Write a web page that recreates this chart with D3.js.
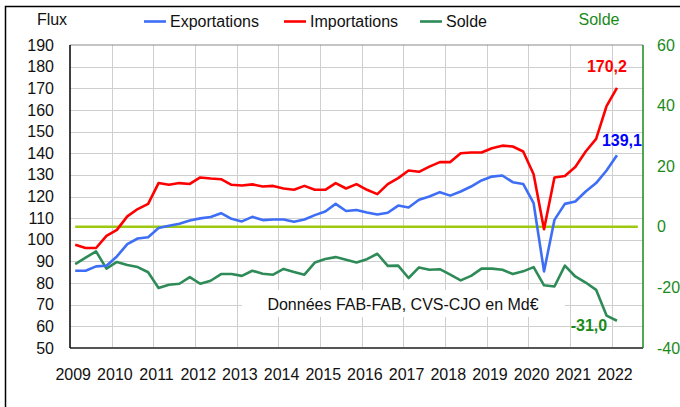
<!DOCTYPE html>
<html>
<head>
<meta charset="utf-8">
<script src="https://cdn.jsdelivr.net/npm/d3@7"></script>
<style>
  body { margin: 0; background: #fff; }
  svg { display: block; font-family: "Liberation Sans", Arial, sans-serif; }
</style>
</head>
<body>
<svg id="chart" width="680" height="407"></svg>
<script>
// quarters 2009T1 .. 2022T3 (the last two slots stay empty)
const years = [2009, 2010, 2011, 2012, 2013, 2014, 2015, 2016, 2017, 2018, 2019, 2020, 2021, 2022];
const quarterNames = ["T1", "T2", "T3", "T4"];
const quarters = years.flatMap(y => quarterNames.map(q => y + q)).slice(0, 55);

// Md€, CVS-CJO
const exportations = [
  85.7, 85.7, 87.7, 88.0, 92.3, 98.0, 100.6, 101.2, 105.4, 106.5,
  107.4, 108.9, 109.9, 110.5, 112.3, 109.7, 108.5, 110.6, 109.1, 109.4,
  109.4, 108.3, 109.4, 111.4, 113.1, 116.6, 113.3, 113.8, 112.6, 111.7,
  112.5, 115.8, 114.9, 118.5, 120.0, 122.0, 120.4, 122.3, 124.6, 127.4,
  129.2, 129.7, 126.6, 125.8, 116.9, 85.4, 109.2, 116.6, 117.7, 122.3,
  126.2, 132.0, 139.1
];
const importations = [
  97.7, 96.2, 96.2, 101.8, 104.6, 110.8, 114.2, 116.6, 126.2, 125.4,
  126.2, 125.8, 128.8, 128.3, 128.0, 125.4, 125.1, 125.6, 124.6, 124.9,
  123.7, 123.1, 124.9, 123.1, 123.1, 126.2, 123.7, 125.7, 123.1, 121.1,
  125.7, 128.5, 132.0, 131.4, 133.8, 135.9, 135.9, 140.0, 140.3, 140.3,
  142.3, 143.5, 143.1, 140.8, 130.3, 104.9, 128.8, 129.5, 133.6, 140.8,
  146.6, 161.8, 170.2
];
const solde = [
  -12.3, -10.2, -8.1, -13.8, -11.6, -12.6, -13.3, -15.0, -20.2, -19.1,
  -18.8, -16.6, -18.8, -17.8, -15.6, -15.6, -16.2, -14.5, -15.5, -15.8,
  -13.9, -14.9, -15.8, -11.8, -10.6, -10.0, -10.9, -11.8, -10.7, -8.9,
  -12.9, -12.8, -16.9, -13.4, -14.2, -14.0, -15.8, -17.7, -16.2, -13.8,
  -13.8, -14.2, -15.6, -14.7, -13.3, -19.3, -19.7, -12.8, -16.4, -18.4,
  -20.8, -29.3, -31.0
];
const fluxTicks = [50, 60, 70, 80, 90, 100, 110, 120, 130, 140, 150, 160, 170, 180, 190];
const soldeTicks = [-40, -20, 0, 20, 40, 60];

d3.formatDefaultLocale({decimal: ",", thousands: " ", grouping: [3], currency: ["", " €"], minus: "-"});
const fmt = d3.format(".1f");

const svg = d3.select("#chart");
const margin = {top: 45, right: 37, bottom: 59, left: 70};
const width = 680, height = 407;

const x = d3.scaleBand().domain(quarters).range([margin.left, width - margin.right]);
const cx = (i) => x(quarters[i]) + x.bandwidth() / 2;
const yL = d3.scaleLinear().domain([50, 190]).range([height - margin.bottom, margin.top]);
const yR = d3.scaleLinear().domain([-40, 60]).range([height - margin.bottom, margin.top]);

// outer frame (cut by the viewport on the right and bottom)
svg.append("path")
  .attr("d", `M${width},6.5H5.5V${height}`)
  .attr("fill", "none").attr("stroke", "#000").attr("stroke-width", 1.5);

// gridlines
const grid = svg.append("g").attr("stroke", "#cfcfcf").attr("stroke-width", 1);
grid.selectAll("line.h").data(fluxTicks.slice(1, -1)).join("line")
  .attr("x1", margin.left).attr("x2", width - margin.right)
  .attr("y1", d => Math.round(yL(d)) + 0.5).attr("y2", d => Math.round(yL(d)) + 0.5);
grid.selectAll("line.v").data(quarters.filter((q, i) => i > 0 && i % 4 === 0)).join("line")
  .attr("x1", d => Math.round(x(d)) + 0.5).attr("x2", d => Math.round(x(d)) + 0.5)
  .attr("y1", margin.top).attr("y2", height - margin.bottom);

// note box
svg.append("rect").attr("x", 242).attr("y", 290).attr("width", 323).attr("height", 27).attr("fill", "#fff");
svg.append("text").attr("x", 403).attr("y", 310).attr("text-anchor", "middle")
  .attr("font-size", 16).attr("fill", "#111").text("Données FAB-FAB, CVS-CJO en Md€");

// plot borders
svg.append("line").attr("x1", margin.left).attr("x2", width - margin.right)
  .attr("y1", margin.top).attr("y2", margin.top).attr("stroke", "#8a8a8a").attr("stroke-width", 1.2);
svg.append("line").attr("x1", margin.left).attr("x2", width - margin.right)
  .attr("y1", height - margin.bottom).attr("y2", height - margin.bottom).attr("stroke", "#555").attr("stroke-width", 2);
svg.append("line").attr("x1", margin.left).attr("x2", margin.left)
  .attr("y1", margin.top).attr("y2", height - margin.bottom).attr("stroke", "#000").attr("stroke-width", 1.5);
svg.append("line").attr("x1", width - margin.right).attr("x2", width - margin.right)
  .attr("y1", margin.top).attr("y2", height - margin.bottom).attr("stroke", "#1a8a1a").attr("stroke-width", 1.5);

// axes
const yAxisL = (g) => g
  .attr("transform", `translate(${margin.left},0)`)
  .call(d3.axisLeft(yL).tickValues(fluxTicks).tickSize(0).tickPadding(16))
  .call(g => g.select(".domain").remove())
  .call(g => g.selectAll("text").attr("font-size", 16).attr("fill", "#111").attr("font-family", null));
svg.append("g").call(yAxisL);

const yAxisR = (g) => g
  .attr("transform", `translate(${width - margin.right},0)`)
  .call(d3.axisRight(yR).tickValues(soldeTicks).tickSize(0).tickPadding(14))
  .call(g => g.select(".domain").remove())
  .call(g => g.selectAll("text").attr("font-size", 16).attr("fill", "#1a8a1a").attr("font-family", null));
svg.append("g").call(yAxisR);

const xAxis = (g) => g
  .attr("transform", `translate(-2,${height - margin.bottom})`)
  .call(d3.axisBottom(x).tickValues(quarters.filter(q => q.endsWith("T1"))).tickSize(0).tickPadding(21)
    .tickFormat(q => q.slice(0, 4)))
  .call(g => g.select(".domain").remove())
  .call(g => g.selectAll("text").attr("font-size", 16).attr("fill", "#111").attr("font-family", null));
svg.append("g").call(xAxis);

// axis titles
svg.append("text").attr("x", 52).attr("y", 25).attr("text-anchor", "middle")
  .attr("font-size", 16).attr("fill", "#111").text("Flux");
svg.append("text").attr("x", 599).attr("y", 25).attr("text-anchor", "middle")
  .attr("font-size", 16).attr("fill", "#1a8a1a").text("Solde");

// zero line of the balance (secondary axis)
svg.append("line")
  .attr("x1", cx(0)).attr("x2", cx(quarters.length - 1))
  .attr("y1", yR(0)).attr("y2", yR(0))
  .attr("stroke", "#9dca10").attr("stroke-width", 2.5);

// series
const series = [
  {name: "Solde", values: solde, scale: yR, color: "#2e8b57"},
  {name: "Exportations", values: exportations, scale: yL, color: "#3d6ef5"},
  {name: "Importations", values: importations, scale: yL, color: "#ff0000"}
];
series.forEach(s => {
  const line = d3.line().x((d, i) => cx(i)).y(d => s.scale(d));
  svg.append("path").datum(s.values)
    .attr("fill", "none").attr("stroke", s.color).attr("stroke-width", 2.6)
    .attr("stroke-linejoin", "round").attr("d", line);
});

// end labels
const last = exportations.length - 1;
const endLabels = [
  {v: importations[last], y: yL(importations[last]), dx: -10, dy: -16, color: "#ff0000"},
  {v: exportations[last], y: yL(exportations[last]), dx: 5, dy: -9, color: "#0000ff"},
  {v: solde[last], y: yR(solde[last]), dx: -28, dy: 10, color: "#1a8a1a"}
];
svg.selectAll("text.endlabel").data(endLabels).join("text")
  .attr("class", "endlabel")
  .attr("x", d => cx(last) + d.dx).attr("y", d => d.y + d.dy)
  .attr("text-anchor", "middle").attr("font-size", 16).attr("font-weight", "bold")
  .attr("fill", d => d.color).text(d => fmt(d.v));

// legend
const legendItems = [
  {name: "Exportations", color: "#3d6ef5", x: 144},
  {name: "Importations", color: "#ff0000", x: 284},
  {name: "Solde", color: "#2e8b57", x: 420}
];
const legend = svg.append("g");
legendItems.forEach(d => {
  legend.append("line").attr("x1", d.x).attr("x2", d.x + 22).attr("y1", 21.5).attr("y2", 21.5)
    .attr("stroke", d.color).attr("stroke-width", 2.6);
  legend.append("text").attr("x", d.x + 26).attr("y", 27).attr("font-size", 16).attr("fill", "#111").text(d.name);
});
</script>
</body>
</html>
